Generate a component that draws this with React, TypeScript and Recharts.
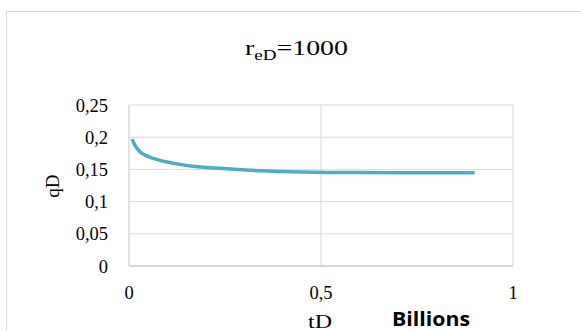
import React from "react";
import { LineChart, Line, XAxis, YAxis, CartesianGrid } from "recharts";

const tD = [0.008, 0.015, 0.029, 0.05, 0.081, 0.12, 0.167, 0.255, 0.341, 0.45, 0.6, 0.75, 0.9];
const qD = [0.197, 0.188, 0.177, 0.17, 0.164, 0.159, 0.155, 0.151, 0.148, 0.146, 0.145, 0.1448, 0.1447];
const xTicks = [0, 0.5, 1];
const yTicks = [0, 0.05, 0.1, 0.15, 0.2, 0.25];

const data = tD.map((t, i) => ({ t, q: qD[i] }));
const fmt = (v: number) => String(v).replace(".", ",");

const serif = "'Liberation Serif', 'Times New Roman', serif";

const YTick = (props: any) => {
  const { x, y, payload } = props;
  return (
    <text x={x} y={y} dy="0.36em" textAnchor="end" fontFamily={serif} fontSize={18.5} fill="#000">
      {fmt(payload.value)}
    </text>
  );
};

export default function App() {
  return (
    <div style={{ position: "absolute", left: 0, top: 0, width: 581, height: 331, overflow: "hidden", background: "#fff" }}>
      <div style={{ position: "absolute", left: 6, top: 11, width: 700, height: 500, border: "1px solid #d9d9d9" }} />
      <div style={{ position: "absolute", left: 0, top: 0 }}>
        <LineChart width={581} height={331} data={data} margin={{ top: 105, right: 68, bottom: 0, left: 0 }}>
          <CartesianGrid stroke="#d9d9d9" strokeWidth={1} vertical={true} horizontal={true} />
          <XAxis
            type="number"
            dataKey="t"
            domain={[0, 1]}
            ticks={xTicks}
            tickFormatter={fmt}
            height={65}
            tickLine={false}
            tickSize={0}
            tickMargin={20}
            axisLine={{ stroke: "#cfcfcf", strokeWidth: 1.5 }}
            tick={{ fill: "#000", fontSize: 18.5, fontFamily: serif }}
            interval={0}
          />
          <YAxis
            type="number"
            domain={[0, 0.25]}
            ticks={yTicks}
            width={129}
            tickLine={false}
            tickSize={0}
            tickMargin={21}
            axisLine={{ stroke: "#d9d9d9", strokeWidth: 1 }}
            tick={<YTick />}
            interval={0}
          />
          <Line
            type="monotone"
            dataKey="q"
            stroke="#4bacc6"
            strokeWidth={3.5}
            dot={false}
            isAnimationActive={false}
          />
        </LineChart>
      </div>
      <svg width={581} height={331} style={{ position: "absolute", left: 0, top: 0, pointerEvents: "none" }}>
        <text x={245} y={55} fontFamily={serif} fontSize={20.5} fill="#000" textLength={103} lengthAdjust="spacingAndGlyphs">
          <tspan>r</tspan>
          <tspan dy={5} fontSize={14}>eD</tspan>
          <tspan dy={-5}>=1000</tspan>
        </text>
        <text
          x={59}
          y={186}
          textAnchor="middle"
          fontFamily={serif}
          fontSize={19}
          fill="#000"
          transform="rotate(-90 59 186)"
        >
          qD
        </text>
        <text x={308} y={328} fontFamily={serif} fontSize={19} fill="#000" textLength={24} lengthAdjust="spacingAndGlyphs">
          tD
        </text>
        <text x={392} y={326} fontFamily="'Open Sans', sans-serif" fontWeight="bold" fontSize={20} fill="#000" textLength={78} lengthAdjust="spacingAndGlyphs">
          Billions
        </text>
      </svg>
    </div>
  );
}
